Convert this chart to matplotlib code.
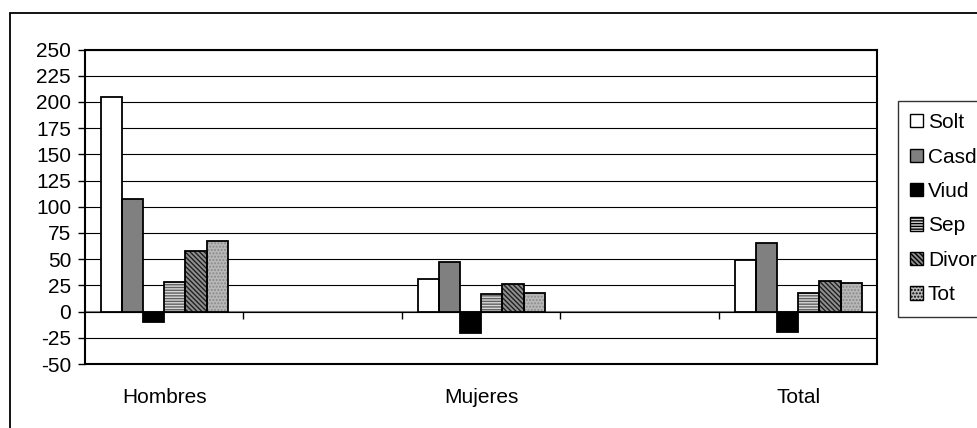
import numpy as np
import matplotlib.pyplot as plt
from matplotlib.patches import Rectangle

plt.rcParams['font.family'] = ['Liberation Sans', 'DejaVu Sans']
plt.rcParams['hatch.linewidth'] = 1.0

categories = ['Hombres', '', 'Mujeres', '', 'Total']
series = ['Solt', 'Casd', 'Viud', 'Sep', 'Divor', 'Tot']
solt = [205, np.nan, 31, np.nan, 49]
casd = [107, np.nan, 47, np.nan, 65]
viud = [-10, np.nan, -20, np.nan, -19]
sep = [28, np.nan, 17, np.nan, 18]
divor = [58, np.nan, 26, np.nan, 29]
tot = [67, np.nan, 18, np.nan, 27]
values = [solt, casd, viud, sep, divor, tot]
yticks = list(range(-50, 251, 25))

# fill colour, hatch, hatch colour for each series
styles = [
    ('white', None, None),
    ('#808080', None, None),
    ('black', None, None),
    ('#d8d8d8', '------', '#606060'),
    ('#909090', '\\\\\\\\\\\\\\', '#202020'),
    ('#b8b8b8', '.....', '#8a8a8a'),
]

fig = plt.figure(figsize=(9.78, 4.28), dpi=100)
ax = fig.add_axes([85 / 978, 1 - 364 / 428, (877.5 - 85) / 978, (364 - 49.5) / 428])

x = np.arange(len(categories))
w = 0.8 / len(series)
handles = []
for i, (name, vals) in enumerate(zip(series, values)):
    fc, hatch, hc = styles[i]
    pos = x + (i - 2.5) * w
    ax.bar(pos, vals, w, color=fc, hatch=hatch, edgecolor=hc if hc else fc,
           linewidth=0, zorder=3)
    ax.bar(pos, vals, w, fill=False, edgecolor='black', linewidth=1.3, zorder=4)
    handles.append(Rectangle((0, 0), 1, 1, facecolor=fc, hatch=hatch,
                             edgecolor='black', linewidth=1.0, label=name))

ax.set_xlim(-0.5, len(categories) - 0.5)
ax.set_ylim(-50, 250)
ax.set_yticks(yticks)
ax.set_yticklabels([str(v) for v in yticks], fontsize=15)
ax.yaxis.grid(True, color='black', linewidth=0.8, zorder=1)
ax.set_axisbelow(True)
ax.tick_params(axis='y', direction='out', length=5, width=1, pad=5)

ax.set_xticks(x)
ax.set_xticklabels(categories, fontsize=15)
ax.tick_params(axis='x', length=0, pad=17)

for s in ax.spines.values():
    s.set_linewidth(1.5)
    s.set_color('black')

# category axis crossing at zero
sec = ax.secondary_xaxis(50 / 300)
sec.set_xticks(np.arange(0.5, len(categories) - 1, 1))
sec.set_xticklabels([])
sec.tick_params(length=5, width=1, color='black')
sec.spines['bottom'].set_color('#808080')
sec.spines['bottom'].set_linewidth(1.5)

leg = fig.legend(handles=handles, loc='upper left',
                 bbox_to_anchor=(897.7 / 978, 1 - 100.7 / 428),
                 fontsize=15, frameon=True, fancybox=False, edgecolor='black',
                 handlelength=0.6, handleheight=0.6, handletextpad=0.25,
                 labelspacing=0.74, borderpad=0.6, borderaxespad=0)
leg.get_frame().set_linewidth(1.0)

# outer chart border
fig.patches.append(Rectangle((9.5 / 978, -0.1), 1.2, 1 - 12.5 / 428 + 0.1,
                             transform=fig.transFigure, fill=False,
                             edgecolor='black', linewidth=1.3))

fig.savefig('out.png', dpi=100)
